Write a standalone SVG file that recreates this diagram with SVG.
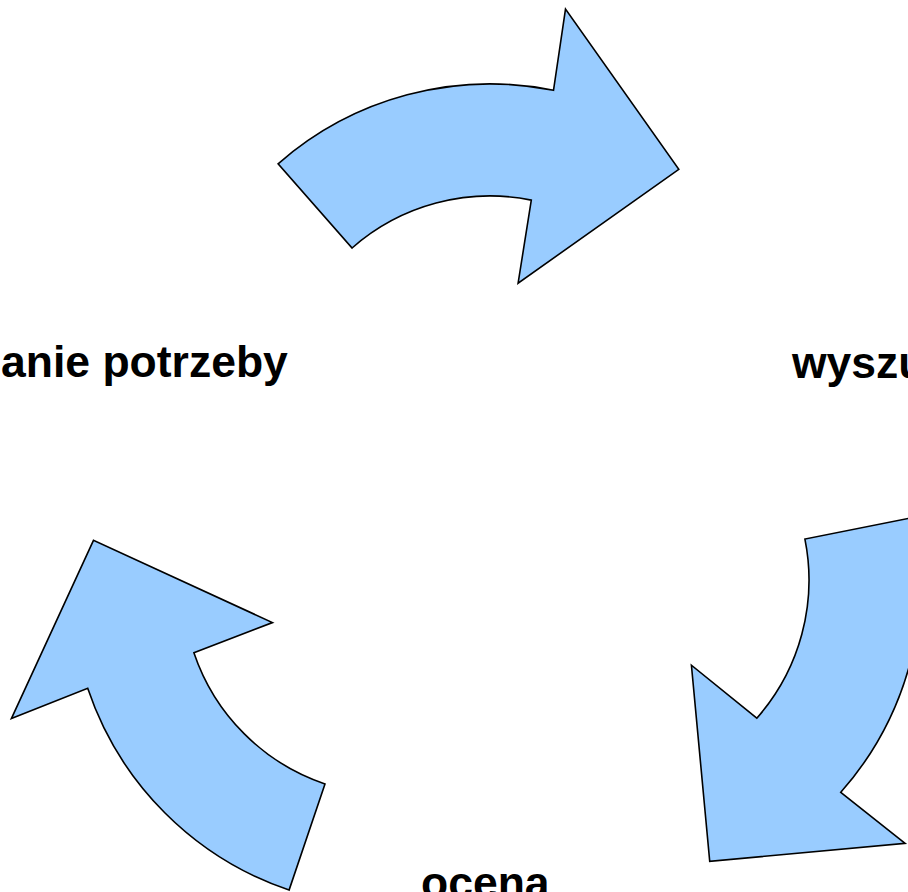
<svg xmlns="http://www.w3.org/2000/svg" width="908" height="892" viewBox="0 0 908 892">
<defs>
<style>
.arrow{fill:#99ccff;stroke:#000;stroke-width:1.6;stroke-linejoin:miter}
.lbl{font-family:"Liberation Sans",Arial,sans-serif;font-weight:bold;font-size:44.5px;fill:#000}
</style>
<path id="carrow" d="M -211.9 -241.2 A 321 321 0 0 1 63.5 -314.7 L 75.5 -395.9 L 188.8 -235.7 L 28.1 -121.8 L 41.3 -204.9 A 209 209 0 0 0 -137.9 -157.0 Z"/>
</defs>
<rect width="908" height="892" fill="#fff"/>
<g id="connectors">
<use id="arrow-top" class="arrow" href="#carrow" transform="translate(490,405)"/>
<use id="arrow-right" class="arrow" href="#carrow" transform="translate(600,580) rotate(120)"/>
<use id="arrow-left" class="arrow" href="#carrow" transform="translate(392,586) rotate(240)"/>
</g>
<g id="node-potrzeba"><text class="lbl" x="1" y="377">anie potrzeby</text></g>
<g id="node-wyszukiwanie"><text class="lbl" x="792" y="378">wyszu</text></g>
<g id="node-ocena"><text class="lbl" x="421" y="898">ocena</text></g>
</svg>
